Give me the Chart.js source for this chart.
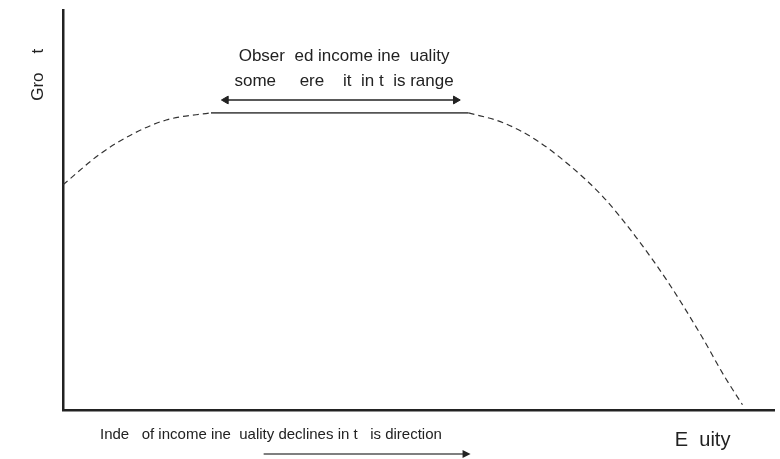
<!DOCTYPE html>
<html>
<head>
<meta charset="utf-8">
<script src="https://cdn.jsdelivr.net/npm/chart.js@4.4.1/dist/chart.umd.min.js"></script>
<style>
    html, body { margin: 0; padding: 0; background: #fff; }
    #wrap { width: 780px; height: 459px; }
</style>
</head>
<body>
<div id="wrap"><canvas id="growthChart"></canvas></div>
<script>
// growth vs. equity curve, x = equity (0-100), y = growth (0-100)
const risingX = [0, 5.2, 9.8, 14.5, 20.8];
const risingY = [56.3, 64, 69, 72.5, 74.3];

const plateauX = [20.8, 57.0];
const plateauY = [74.3, 74.3];

const fallingX = [57.0, 61.9, 66.5, 71.1, 75.9, 80.5, 85.1, 89.8, 93.0, 95.5];
const fallingY = [74.3, 71.8, 67.5, 61.3, 53.3, 43.3, 31.8, 18.3, 8.3, 1.3];

// arrows: observed range above the plateau, direction arrow under the axis
const rangeArrowX = [22.9, 55.2];
const rangeArrowY = [77.5, 77.5];
const dirArrowX = [28.2, 56.3];
const dirArrowY = [-11.0, -11.0];

const yTitle = 'Gro    t';
const xTitle = 'E  uity';
const rangeLabel = ['Obser  ed income ine  uality', 'some     ere    it  in t  is range'];
const dirLabel = 'Inde   of income ine  uality declines in t   is direction';

const pts = (xs, ys) => xs.map((x, i) => ({ x: x, y: ys[i] }));

const ink = '#222';
const font = px => px + 'px "Liberation Sans", Arial, sans-serif';
const dashed = {
    borderColor: '#333',
    borderWidth: 1.2,
    borderDash: [6, 4],
    pointRadius: 0,
    tension: 0.4,
    cubicInterpolationMode: 'monotone',
    showLine: true,
    fill: false
};

// text labels and the arrowhead under the axis (outside the chart area)
const textPlugin = {
    id: 'labels',
    afterDraw(chart) {
        const { ctx, scales: { x, y } } = chart;
        ctx.save();
        ctx.fillStyle = ink;
        ctx.textBaseline = 'middle';

        ctx.font = font(17);
        ctx.textAlign = 'center';
        ctx.fillText(rangeLabel[0], x.getPixelForValue(39.5), y.getPixelForValue(88.5));
        ctx.fillText(rangeLabel[1], x.getPixelForValue(39.5), y.getPixelForValue(82.2));

        ctx.font = font(15);
        ctx.textAlign = 'left';
        ctx.fillText(dirLabel, x.getPixelForValue(5.2), y.getPixelForValue(-6.2));

        ctx.font = font(20);
        ctx.textAlign = 'center';
        ctx.fillText(xTitle, x.getPixelForValue(89.9), y.getPixelForValue(-7.6));

        // arrowhead at the end of the direction arrow
        const tipX = x.getPixelForValue(dirArrowX[dirArrowX.length - 1]);
        const tipY = y.getPixelForValue(dirArrowY[dirArrowY.length - 1]);
        ctx.beginPath();
        ctx.moveTo(tipX + 7, tipY);
        ctx.lineTo(tipX - 1, tipY - 4);
        ctx.lineTo(tipX - 1, tipY + 4);
        ctx.closePath();
        ctx.fill();

        ctx.font = font(17);
        ctx.translate(x.getPixelForValue(-3.4), y.getPixelForValue(83.8));
        ctx.rotate(-Math.PI / 2);
        ctx.fillText(yTitle, 0, 0);
        ctx.restore();
    }
};

new Chart(document.getElementById('growthChart'), {
    type: 'scatter',
    data: {
        datasets: [
            Object.assign({ data: pts(risingX, risingY) }, dashed),
            {
                data: pts(plateauX, plateauY),
                showLine: true,
                borderColor: '#555',
                borderWidth: 1.8,
                pointRadius: 0
            },
            Object.assign({ data: pts(fallingX, fallingY) }, dashed),
            {
                data: pts(rangeArrowX, rangeArrowY),
                showLine: true,
                borderColor: ink,
                borderWidth: 1.3,
                pointStyle: 'triangle',
                pointRadius: 4.5,
                pointRotation: [-90, 90],
                pointBackgroundColor: ink,
                pointBorderColor: ink,
                pointBorderWidth: 1,
                clip: false
            },
            {
                data: pts(dirArrowX, dirArrowY),
                showLine: true,
                borderColor: '#555',
                borderWidth: 1.6,
                pointRadius: 0,
                clip: false
            }
        ]
    },
    options: {
        responsive: true,
        maintainAspectRatio: false,
        animation: false,
        layout: { padding: { left: 63, right: 0, top: 10, bottom: 49 } },
        plugins: {
            legend: { display: false },
            tooltip: { enabled: false }
        },
        scales: {
            x: {
                type: 'linear',
                min: 0,
                max: 100,
                grid: { display: false },
                ticks: { display: false },
                border: { color: ink, width: 2.5 },
                afterFit: s => { s.height = 0; }
            },
            y: {
                type: 'linear',
                min: 0,
                max: 100,
                grid: { display: false },
                ticks: { display: false },
                border: { color: ink, width: 2.5 },
                afterFit: s => { s.width = 0; }
            }
        }
    },
    plugins: [textPlugin]
});
</script>
</body>
</html>
